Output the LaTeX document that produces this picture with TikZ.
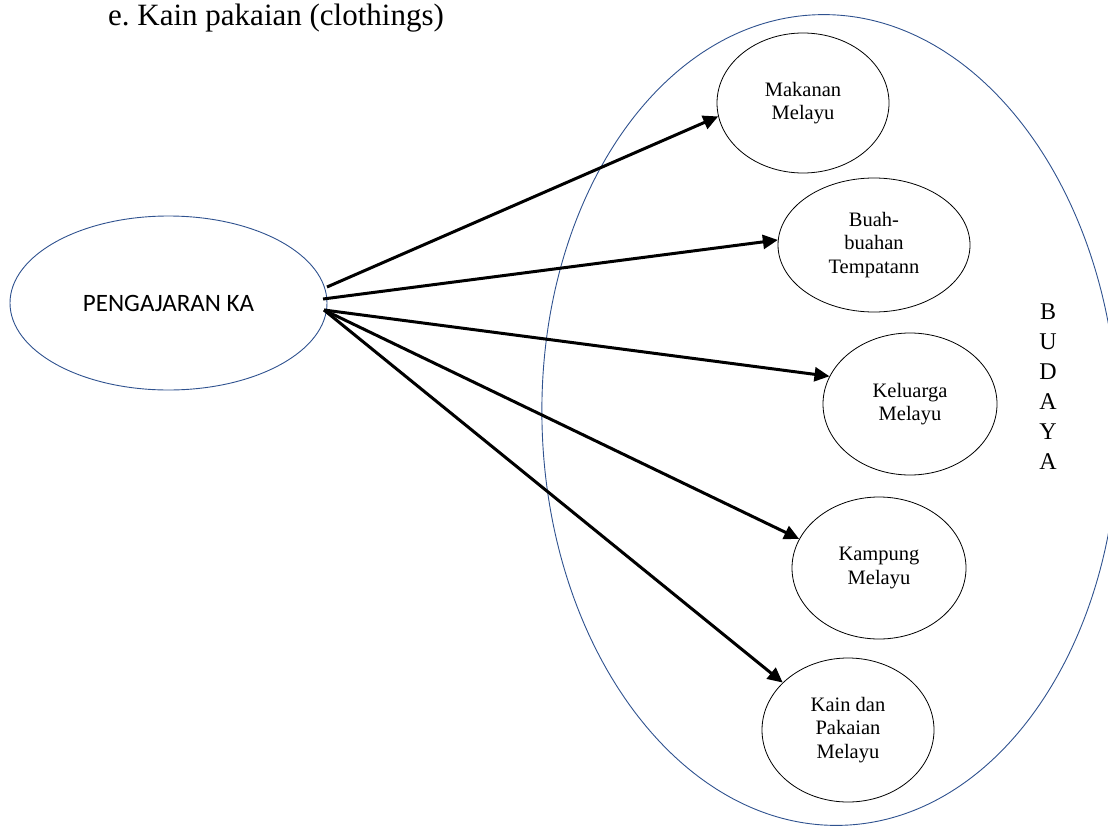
\documentclass[tikz,border=0pt]{standalone}
\usepackage{fontspec}
\setmainfont{Liberation Serif}
\newfontfamily\carlitofont{Carlito}
\usetikzlibrary{shapes.geometric,arrows.meta}
\definecolor{ellblue}{RGB}{47,82,143}
\tikzset{
  blueell/.style={ellipse, draw=ellblue, line width=0.9pt, inner sep=0pt},
  itemell/.style={ellipse, draw=black, line width=0.8pt, inner sep=0pt, align=center,
    font=\fontsize{20.5}{23.5}\selectfont},
  arr/.style={line width=3pt, -{Triangle[length=15pt,width=14pt]}}
}
\begin{document}
\begin{tikzpicture}[x=1pt,y=-1pt]
\useasboundingbox (0,0) rectangle (1108,827);
% heading text
\node[anchor=base west, inner sep=0pt, font=\fontsize{31}{36}\selectfont] (head) at (108,25) {e.\ Kain pakaian (clothings)};
% big ellipse
\node[blueell, rotate=1.8, minimum width=576pt, minimum height=811pt] (budaya) at (830,420) {};
\node[anchor=north, inner sep=0pt, align=center, font=\fontsize{24}{30}\selectfont] (budayatext) at (1048,304) {B\\U\\D\\A\\Y\\A};
% left ellipse
\node[blueell, minimum width=317pt, minimum height=174pt, font=\carlitofont\fontsize{25}{30}\selectfont] (ka) at (168.5,303) {PENGAJARAN KA};
% items
\node[itemell, minimum width=172pt, minimum height=140pt] (mak) at (803,103) {Makanan\\Melayu};
\node[itemell, minimum width=192pt, minimum height=134pt] (buah) at (874,245) {Buah-\\buahan\\Tempatann};
\node[itemell, minimum width=174pt, minimum height=142pt] (kel) at (910,404) {Keluarga\\Melayu};
\node[itemell, minimum width=174pt, minimum height=142pt] (kam) at (879,568) {Kampung\\Melayu};
\node[itemell, minimum width=172pt, minimum height=144pt] (kain) at (848,730) {Kain dan\\Pakaian\\Melayu};
% arrow starts on the left ellipse
\coordinate (s1) at (327,287);
\coordinate (s2) at (323,299);
\coordinate (s3) at (324,310);
\draw[arr] (s1) -- (mak.189);
\draw[arr] (s2) -- (buah.177);
\draw[arr] (s3) -- (kel.161);
\draw[arr] (s3) -- (kam.160);
\draw[arr] (s3) -- (kain.144);
\end{tikzpicture}
\end{document}
